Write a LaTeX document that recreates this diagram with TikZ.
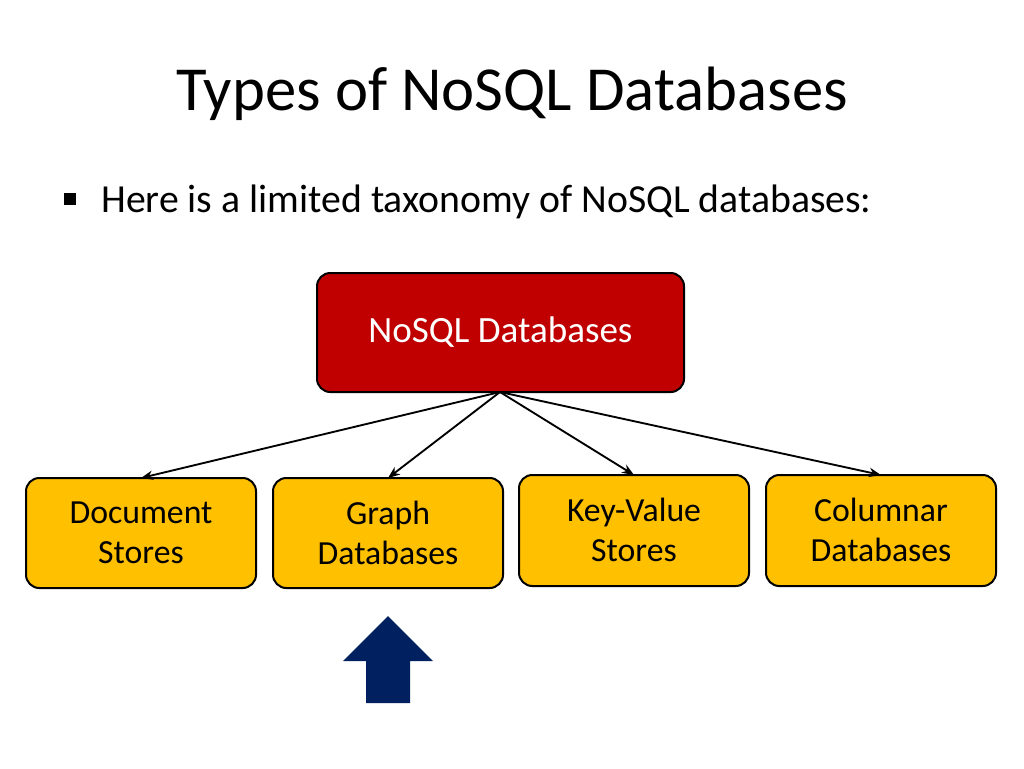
\documentclass[tikz,border=0pt]{standalone}
\usepackage{fontspec}
\setmainfont{Carlito}
\usetikzlibrary{arrows.meta}
\definecolor{boxred}{HTML}{C00000}
\definecolor{boxyel}{HTML}{FFC000}
\definecolor{navy}{HTML}{002060}
\begin{document}
\begin{tikzpicture}[x=0.75pt,y=-0.75pt,
  rootbox/.style={draw=black,line width=1.5pt,fill=boxred,rounded corners=10pt},
  childbox/.style={draw=black,line width=1.5pt,fill=boxyel,rounded corners=10pt},
  childtext/.style={align=center,font=\fontsize{25.3}{30}\selectfont},
  link/.style={-{Stealth[length=9pt,width=7pt]},line width=1.4pt}]
\useasboundingbox (0,0) rectangle (1024,768);
\node (title) at (512,94) {\fontsize{47}{54}\selectfont Types of NoSQL Databases};
\node[fill=black,minimum size=9pt,inner sep=0pt] (bul) at (70,199) {};
\node[anchor=west,inner sep=0pt] (bt) at (101,202) {\fontsize{29.8}{34}\selectfont Here is a limited taxonomy of NoSQL databases:};
\path[rootbox] (317,273) rectangle (684,392);
\node[text=white,font=\fontsize{27.8}{32}\selectfont] (root) at (500.5,332.5) {NoSQL Databases};
\coordinate (rb) at (500,392);
\path[childbox] (26,478) rectangle (256,588);
\node[childtext] (c1) at (141,533) {Document\\Stores};
\path[childbox] (273,478) rectangle (503,588);
\node[childtext] (c2) at (388,533) {Graph\\Databases};
\path[childbox] (519,475) rectangle (749,586);
\node[childtext] (c3) at (634,530) {Key-Value\\Stores};
\path[childbox] (766,475) rectangle (996,586);
\node[childtext] (c4) at (881,530) {Columnar\\Databases};
\coordinate (t1) at (141,478);
\coordinate (t2) at (388,478);
\coordinate (t3) at (634,475);
\coordinate (t4) at (881,475);
\foreach \t in {t1,t2,t3,t4} \draw[link] (rb) -- (\t);
\fill[navy] (388,616) -- (433,661) -- (410,661) -- (410,703) -- (366,703) -- (366,661) -- (343,661) -- cycle;
\end{tikzpicture}
\end{document}
